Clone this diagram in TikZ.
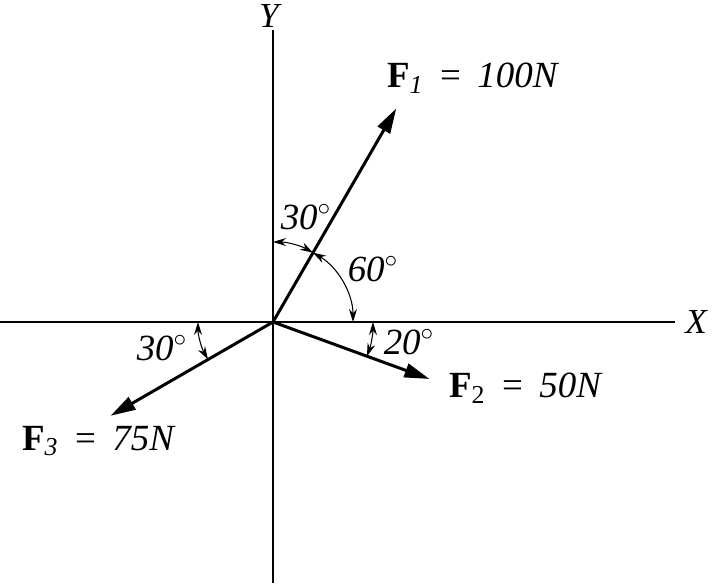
\documentclass[tikz,border=0pt]{standalone}
\usepackage{fontspec}
\setmainfont{Liberation Serif}
\usepackage{tikz}
\usetikzlibrary{arrows.meta, positioning, calc}

\newcommand{\eqsign}{\hspace{0.45em}=\hspace{0.45em}}

\begin{document}
\begin{tikzpicture}[
    axis/.style={line width=0.6pt},
    force/.style={line width=1.7pt, -{Triangle[length=5mm, width=2.8mm]}},
    anglearc/.style={line width=0.6pt, {Stealth[length=2.6mm, width=1.6mm]}-{Stealth[length=2.6mm, width=1.6mm]}},
    forcelabel/.style={font=\fontsize{21}{25}\selectfont, inner sep=1pt, anchor=west},
    anglelabel/.style={font=\fontsize{21}{25}\selectfont\itshape, inner sep=1pt},
    axislabel/.style={font=\fontsize{20}{24}\selectfont\itshape, inner sep=1pt}
  ]
  \useasboundingbox (-5.46,-5.22) rectangle (8.8,6.44);

  % ===== Axes =====
  \coordinate (O) at (0,0);
  \coordinate (xl) at (-5.46,0);
  \coordinate (xr) at (8.04,0);
  \coordinate (yb) at (0,-5.22);
  \coordinate (yt) at (0,5.84);
  \draw[axis] (xl) -- (xr);
  \draw[axis] (yb) -- (yt);
  \node[axislabel] (xlab) at (8.46,0) {X};
  \node[axislabel] (ylab) at (-0.08,6.12) {Y};

  % ===== Forces =====
  \coordinate (F1) at (60:4.93);
  \coordinate (F2) at (-20:3.33);
  \coordinate (F3) at (210:3.75);
  \draw[force] (O) -- (F1);
  \draw[force] (O) -- (F2);
  \draw[force] (O) -- (F3);

  \node[forcelabel] (f1lab) at (2.24,4.88) {\textbf{F}\textsubscript{\textit{1}}\eqsign\textit{100N}};
  \node[forcelabel] (f2lab) at (3.48,-1.32) {\textbf{F}\textsubscript{2}\eqsign\textit{50N}};
  \node[forcelabel] (f3lab) at (-5.06,-2.38) {\textbf{F}\textsubscript{\textit{3}}\eqsign\textit{75N}};

  % ===== Angles =====
  \draw[anglearc] (90:1.6) arc[start angle=90, end angle=60, radius=1.6];
  \draw[anglearc] (60:1.6) arc[start angle=60, end angle=0, radius=1.6];
  \draw[anglearc] (0:2) arc[start angle=0, end angle=-20, radius=2];
  \draw[anglearc] (180:1.5) arc[start angle=180, end angle=210, radius=1.5];

  \node[anglelabel] (a30) at (0.66,2.1) {30$^{\circ}$};
  \node[anglelabel] (a60) at (2.0,1.06) {60$^{\circ}$};
  \node[anglelabel] (a20) at (2.72,-0.4) {20$^{\circ}$};
  \node[anglelabel] (a30b) at (-2.22,-0.52) {30$^{\circ}$};
\end{tikzpicture}
\end{document}
